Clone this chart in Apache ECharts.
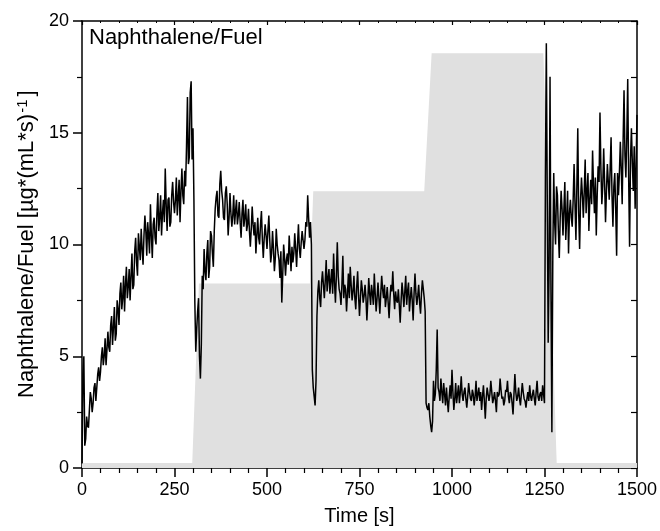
<!DOCTYPE html>
<html>
<head>
<meta charset="utf-8">
<script src="https://cdn.jsdelivr.net/npm/echarts@6/dist/echarts.min.js"></script>
<style>html,body{margin:0;padding:0;background:#fff}#c{width:660px;height:531px}</style>
</head>
<body>
<div id="c"></div>
<script>
// Sample step of the measured trace (s)
var sampleStep = 5;
// Naphthalene/Fuel ratio at t = 0, 5, 10, ... 1500 s
var ratio = [
  0.2, 5.0, 1.3, 1.9, 2.6, 3.1, 2.9, 3.8, 3.6, 4.5,
  4.3, 5.4, 5.0, 4.6, 6.1, 5.2, 6.8, 6.3, 5.7, 7.5,
  6.4, 8.3, 7.6, 7.0, 9.0, 8.1, 7.5, 9.6, 8.2, 10.3,
  8.6, 9.9, 10.7, 9.1, 11.3, 9.5, 10.4, 11.8, 9.4, 11.2,
  10.0, 12.3, 11.2, 10.4, 12.0, 13.4, 10.6, 12.1, 11.0, 12.8,
  11.4, 13.0, 12.1, 11.0, 13.4, 11.8, 12.6, 16.6, 13.9, 17.3,
  15.2, 7.4, 6.2, 7.6, 4.0, 8.6, 9.8, 8.4, 10.2, 9.0,
  10.4, 9.0, 11.6, 12.4, 11.2, 13.3, 12.0, 11.1, 12.6, 10.4,
  12.3, 10.8, 12.2, 11.5, 10.9, 11.9, 10.3, 12.0, 11.2, 10.6,
  11.6, 9.9, 11.7, 10.4, 9.6, 11.2, 10.0, 11.5, 9.4, 10.9,
  9.8, 11.3, 9.2, 10.6, 8.8, 10.7, 9.6, 8.5, 7.4, 10.0,
  8.6, 9.6, 10.4, 8.8, 9.2, 10.5, 9.0, 10.9, 9.4, 10.6,
  9.8, 11.0, 12.2, 10.3, 10.0, 3.6, 2.8, 6.8, 8.4, 7.2,
  8.8, 7.6, 9.3, 8.5, 7.8, 8.9, 9.6, 7.4, 10.1, 8.0,
  7.3, 9.5, 8.2, 7.0, 8.7, 9.0, 7.5, 8.6, 7.1, 8.8,
  6.8, 8.4, 7.4, 8.2, 6.6, 8.5, 7.3, 7.8, 8.7, 7.0,
  8.3, 6.9, 8.6, 7.6, 7.2, 8.1, 6.7, 8.2, 8.8, 7.1,
  7.5, 8.0, 6.5, 8.3, 7.2, 8.6, 7.9, 7.0, 8.1, 6.6,
  8.7, 7.3, 8.2, 6.9, 8.4, 7.6, 2.9, 2.6, 2.3, 1.6,
  3.9, 3.3, 6.2, 3.4, 4.0, 2.9, 3.3, 3.6, 2.5, 3.7,
  4.4, 2.6, 3.8, 3.3, 2.9, 4.1, 3.0, 3.6, 2.7, 3.8,
  3.1, 3.5, 2.8, 3.9, 3.3, 3.0, 2.6, 3.7, 2.2, 3.6,
  3.0, 3.9, 2.9, 3.4, 2.5, 3.2, 4.0, 3.1, 2.8, 3.5,
  3.9, 2.9, 3.3, 2.4, 4.2, 3.0, 3.6, 2.8, 3.8, 3.1,
  2.7, 3.4, 3.7, 3.0, 3.5, 2.8, 3.9, 3.0, 3.4, 3.7,
  2.9, 19.0, 5.6, 17.5, 1.6, 13.2, 10.0, 12.2, 9.4, 12.4,
  10.4, 12.8, 11.2, 9.6, 12.0, 10.8, 13.6, 10.2, 15.2, 9.8,
  13.0, 11.2, 13.8, 12.4, 10.6, 12.9, 14.2, 11.4, 10.4, 13.5,
  15.9, 11.8, 14.3, 11.0, 13.6, 12.0, 14.8, 10.8, 13.2, 9.5,
  12.2, 14.6, 11.8, 16.9, 13.0, 17.4, 9.9, 15.2, 12.4, 11.6,
  15.8
];
// Naphthalene/Fuel ratio at the in-between times t = 2.5, 7.5, ... 1497.5 s
var ratioMid = [
  4.2, 1.0, 2.3, 1.8, 3.4, 2.5, 3.6, 3.0, 4.2, 3.9,
  5.0, 4.6, 5.8, 5.3, 5.4, 6.4, 5.5, 7.2, 6.0, 7.1,
  7.8, 7.1, 8.6, 8.2, 7.6, 8.9, 8.6, 8.0, 9.7, 9.2,
  10.5, 9.3, 9.8, 10.4, 10.6, 11.0, 9.6, 10.4, 10.9, 10.3,
  11.4, 10.6, 12.2, 11.4, 11.0, 11.8, 12.0, 10.8, 12.2, 11.9,
  12.0, 11.3, 12.9, 12.4, 12.2, 13.3, 14.4, 13.6, 16.8, 13.8,
  12.0, 5.2, 7.0, 5.0, 5.5, 8.0, 8.8, 9.6, 8.5, 10.6,
  9.6, 10.6, 12.1, 11.3, 12.7, 12.4, 11.2, 12.3, 11.8, 11.2,
  11.4, 11.3, 10.9, 12.0, 11.3, 11.0, 11.4, 10.8, 11.8, 10.9,
  10.6, 10.7, 10.9, 11.0, 10.4, 10.3, 10.9, 10.2, 10.3, 10.4,
  10.6, 10.2, 9.6, 9.8, 9.4, 10.0, 9.3, 9.7, 8.6, 9.4,
  9.3, 9.1, 9.6, 9.9, 9.6, 9.8, 10.0, 9.8, 10.1, 10.2,
  10.2, 10.8, 11.2, 11.0, 4.4, 3.2, 3.9, 7.9, 7.6, 8.3,
  8.2, 8.4, 7.9, 8.9, 8.4, 7.8, 8.3, 8.6, 8.6, 7.8,
  8.2, 7.6, 8.0, 7.8, 7.6, 8.2, 7.9, 7.6, 8.1, 7.7,
  7.6, 8.0, 7.7, 7.6, 7.5, 7.8, 8.2, 7.3, 7.8, 7.6,
  7.6, 7.8, 8.0, 8.2, 7.6, 7.4, 7.6, 7.9, 7.8, 7.9,
  7.4, 7.3, 7.5, 7.8, 7.9, 7.3, 8.3, 7.6, 7.5, 7.8,
  7.8, 7.7, 7.4, 7.8, 8.0, 7.0, 2.7, 2.9, 1.9, 2.1,
  3.0, 4.4, 3.6, 3.0, 3.4, 3.8, 2.8, 3.0, 3.2, 3.1,
  3.4, 3.1, 2.9, 3.7, 3.4, 3.3, 3.4, 3.1, 3.2, 3.4,
  3.0, 3.3, 3.2, 3.0, 3.6, 3.4, 3.2, 3.0, 3.1, 3.3,
  3.3, 3.4, 3.1, 3.0, 3.4, 3.3, 3.5, 3.2, 3.0, 3.4,
  3.2, 3.4, 2.9, 3.3, 3.4, 3.2, 3.1, 3.3, 3.4, 3.0,
  3.1, 3.0, 3.2, 3.3, 3.1, 3.4, 3.2, 3.3, 3.0, 3.3,
  13.0, 12.0, 9.0, 8.0, 9.5, 11.0, 12.6, 10.6, 11.2, 11.6,
  11.6, 10.2, 12.4, 11.4, 11.2, 12.0, 11.8, 12.6, 11.4, 12.0,
  12.2, 12.4, 11.4, 13.2, 12.0, 11.8, 12.6, 13.0, 12.2, 12.8,
  13.4, 12.6, 12.8, 12.4, 12.8, 13.4, 12.2, 12.6, 11.6, 13.2,
  13.2, 13.4, 14.6, 14.0, 14.8, 13.0, 13.8, 13.6, 14.4, 13.4
];
// Grey background profile (operating condition), breakpoints
var profileTime  = [0, 298, 316, 616, 625, 925, 945, 1247, 1283, 1500];
var profileLevel = [0.22, 0.22, 8.26, 8.26, 12.38, 12.38, 18.56, 18.56, 0.22, 0.22];
// Axis ticks
var xTicks = [0, 250, 500, 750, 1000, 1250, 1500];
var yTicks = [0, 5, 10, 15, 20];

var lineData = [];
ratio.forEach(function (v, i) {
  lineData.push([i * sampleStep, v]);
  if (i < ratioMid.length) lineData.push([i * sampleStep + sampleStep / 2, ratioMid[i]]);
});
var areaData = profileTime.map(function (t, i) { return [t, profileLevel[i]]; });

var FONT = '"Liberation Sans", Arial, sans-serif';
var plain = function (v) { return String(v); };
var chart = echarts.init(document.getElementById('c'), null, {renderer: 'canvas'});
chart.setOption({
  animation: false,
  backgroundColor: '#fff',
  grid: {left: 82, right: 23, top: 21, bottom: 62},
  xAxis: [{
    type: 'value', position: 'bottom',
    min: xTicks[0], max: xTicks[xTicks.length - 1], interval: xTicks[1] - xTicks[0],
    axisLine: {onZero: false, lineStyle: {color: '#000', width: 1.5}},
    axisTick: {inside: false, length: 9, lineStyle: {color: '#000', width: 1.5}},
    minorTick: {show: true, splitNumber: 5, length: 5, lineStyle: {color: '#000', width: 1.2}},
    axisLabel: {color: '#000', fontSize: 18, fontFamily: FONT, margin: 13, formatter: plain},
    splitLine: {show: false},
    name: 'Time [s]', nameLocation: 'middle', nameGap: 38,
    nameTextStyle: {color: '#000', fontSize: 20, fontFamily: FONT}
  }, {
    type: 'value', position: 'top',
    min: xTicks[0], max: xTicks[xTicks.length - 1], interval: xTicks[1] - xTicks[0],
    axisLine: {onZero: false, lineStyle: {color: '#000', width: 1.5}},
    axisTick: {inside: true, length: 4, lineStyle: {color: '#000', width: 1.2}},
    minorTick: {show: true, splitNumber: 5, length: 2, lineStyle: {color: '#000', width: 1}},
    axisLabel: {show: false},
    splitLine: {show: false}
  }],
  yAxis: [{
    type: 'value', position: 'left',
    min: yTicks[0], max: yTicks[yTicks.length - 1], interval: yTicks[1] - yTicks[0],
    axisLine: {onZero: false, lineStyle: {color: '#000', width: 1.5}},
    axisTick: {inside: false, length: 9, lineStyle: {color: '#000', width: 1.5}},
    minorTick: {show: true, splitNumber: 2, length: 5, lineStyle: {color: '#000', width: 1.2}},
    axisLabel: {color: '#000', fontSize: 18, fontFamily: FONT, margin: 13, formatter: plain},
    splitLine: {show: false}
  }, {
    type: 'value', position: 'right',
    min: 0, max: 20, interval: 2.5,
    axisLine: {onZero: false, lineStyle: {color: '#000', width: 1.5}},
    axisTick: {inside: true, length: 6, lineStyle: {color: '#000', width: 1.2}},
    axisLabel: {show: false},
    splitLine: {show: false}
  }],
  series: [{
    type: 'line', data: areaData, symbol: 'none', silent: true,
    lineStyle: {width: 0, color: '#e0e0e0'},
    areaStyle: {color: '#e0e0e0', opacity: 1},
    z: 1
  }, {
    type: 'line', data: lineData, symbol: 'none', silent: true,
    lineStyle: {width: 1.5, color: '#000'},
    z: 3
  }],
  graphic: [{
    type: 'text', left: 89, top: 27, z: 10,
    style: {text: 'Naphthalene/Fuel', font: '22px ' + FONT, fill: '#000'}
  }, {
    type: 'text', x: 27, y: 398, rotation: Math.PI / 2, z: 10,
    style: {
      text: 'Naphthalene/Fuel [µg*(mL*s){sup|-1}]',
      font: '22px ' + FONT, fill: '#000',
      align: 'left', verticalAlign: 'middle',
      rich: {sup: {fontSize: 15, fontFamily: FONT, verticalAlign: 'top', fill: '#000', padding: [0, 3, 8, 1]}}
    }
  }]
});
</script>
</body>
</html>
